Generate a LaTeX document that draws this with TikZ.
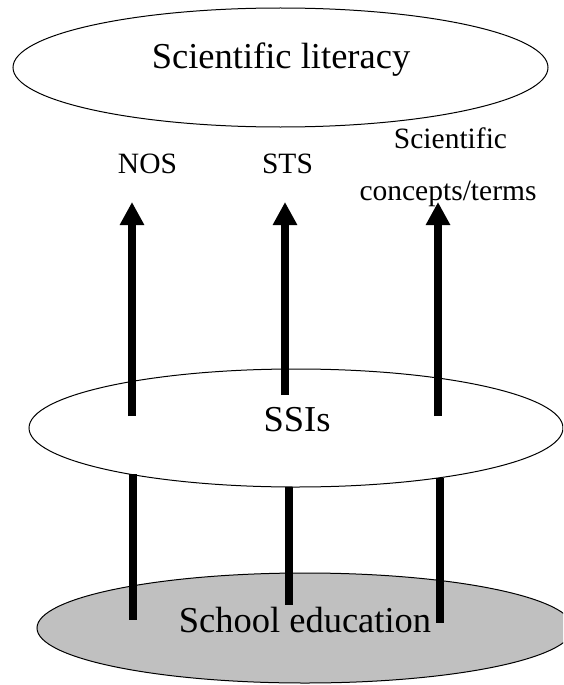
\documentclass[tikz,border=0pt]{standalone}
\usepackage{fontspec}
\setmainfont{Liberation Serif}
\usetikzlibrary{shapes.geometric,arrows.meta}
\definecolor{schoolgray}{RGB}{192,192,192}
\tikzset{
  layer/.style={ellipse, draw=black, line width=1pt, inner sep=0pt},
  bigtext/.style={anchor=base, inner sep=0pt, font=\fontsize{36.5}{43}\selectfont},
  smalltext/.style={anchor=base, inner sep=0pt, font=\fontsize{29.5}{35}\selectfont},
  uparrow/.style={line width=8pt, -{Triangle[length=23pt,width=23pt]}},
  pillar/.style={line width=8pt}
}
\begin{document}
\begin{tikzpicture}[x=1pt,y=-1pt]
\useasboundingbox (0,0) rectangle (563,685);
\clip (0,0) rectangle (563,685);
% layers
\node[layer, minimum width=535pt, minimum height=119pt] (top) at (280.5,67.5) {};
\node[layer, minimum width=534pt, minimum height=118pt] (mid) at (296,428) {};
\node[layer, fill=schoolgray, minimum width=536pt, minimum height=110pt] (bot) at (305,628) {};
% texts
\node[bigtext] (tSL) at (281,68) {Scientific literacy};
\node[bigtext] (tSSI) at (297,431) {SSIs};
\node[bigtext] (tSE) at (305,632) {School education};
\node[smalltext] (tNOS) at (147.5,173) {NOS};
\node[smalltext] (tSTS) at (287.5,173) {STS};
\node[smalltext] (tSC1) at (450.5,148) {Scientific};
\node[smalltext] (tSC2) at (448,200) {concepts/terms};
% arrow ends
\coordinate (a1s) at (132,416); \coordinate (a1t) at (132,202);
\coordinate (a2s) at (285,395); \coordinate (a2t) at (285,202);
\coordinate (a3s) at (438,416); \coordinate (a3t) at (438,202);
\draw[uparrow] (a1s) -- (a1t);
\draw[uparrow] (a2s) -- (a2t);
\draw[uparrow] (a3s) -- (a3t);
% lower pillars
\coordinate (p1s) at (133,474); \coordinate (p1e) at (133,620);
\coordinate (p2s) at (289,487); \coordinate (p2e) at (289,605);
\coordinate (p3s) at (440,478); \coordinate (p3e) at (440,623);
\draw[pillar] (p1s) -- (p1e);
\draw[pillar] (p2s) -- (p2e);
\draw[pillar] (p3s) -- (p3e);
\end{tikzpicture}
\end{document}
